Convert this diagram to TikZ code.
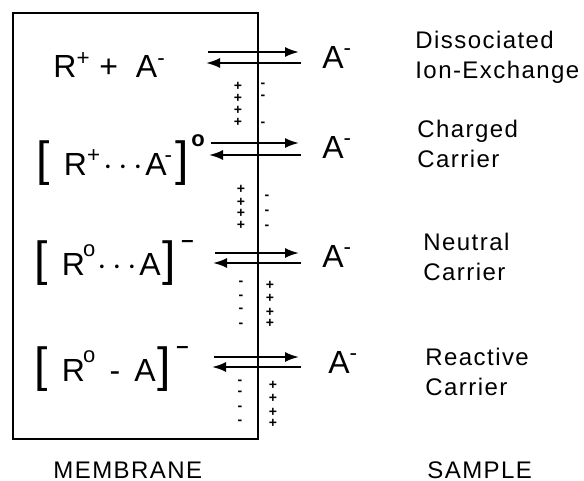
\documentclass[tikz,border=0pt]{standalone}
\usepackage{fontspec}
\setmainfont{Liberation Sans}
\usetikzlibrary{arrows.meta}
\newcommand{\chg}[1]{\textsuperscript{#1}}
\newcommand{\brk}[1]{{\fontsize{24}{24}\selectfont #1}}
\newcommand{\bigchg}[1]{\raisebox{1.7ex}{\fontsize{11}{11}\selectfont\bfseries #1}}
\newcommand{\ring}{\kern-1pt\raisebox{1.15ex}{\fontsize{11}{11}\selectfont o}}
\newcommand{\dotsep}{\kern1pt$\cdot\kern-1pt\cdot\kern-1pt\cdot$\kern1pt}

\begin{document}
\begin{tikzpicture}[x=0.5pt, y=-0.5pt,
  formula/.style = {anchor=west, inner sep=0pt, font=\fontsize{16}{18}\selectfont},
  kind/.style    = {anchor=north west, align=left, inner sep=0pt,
                    font=\fontsize{12}{15}\selectfont\addfontfeature{LetterSpace=6}},
  flux/.style    = {line width=1pt, -{Latex[length=7pt,width=5pt]}},
  charge/.style  = {inner sep=0pt, font=\fontsize{7}{7}\selectfont\bfseries}]
  \useasboundingbox (0,0) rectangle (584,481);
  % membrane
  \draw[line width=0.8pt] (13,13) rectangle (258,439);
  \node[kind, anchor=west] (mem) at (53,470) {MEMBRANE};
  \node[kind, anchor=west] (smp) at (427,470) {SAMPLE};
  % membrane side
  \node[formula] (f1) at (53,65) {R\chg{+} + \ A\chg{-}};
  \node[formula] (f2) at (36,160) {\brk{[}\, R\chg{+}\dotsep A\kern-1pt\chg{-}\kern1pt\brk{]}\kern1.5pt\bigchg{o}};
  \node[formula] (f3) at (34,263) {\brk{[}\, R\ring\dotsep A\kern1pt\brk{]}\,\bigchg{--}};
  \node[formula] (f4) at (34,369) {\brk{[}\, R\ring\, - \,A\kern1pt\brk{]}\,\bigchg{--}};
  % sample side
  \node[formula] (a1) at (322,57) {A\chg{-}};
  \node[formula] (a2) at (322,147) {A\chg{-}};
  \node[formula] (a3) at (322,256) {A\chg{-}};
  \node[formula] (a4) at (328,362) {A\chg{-}};
  % kinds of membrane
  \node[kind] (k1) at (415,31) {Dissociated\\Ion-Exchange};
  \node[kind] (k2) at (417,120) {Charged\\Carrier};
  \node[kind] (k3) at (423,233) {Neutral\\Carrier};
  \node[kind] (k4) at (425,348) {Reactive\\Carrier};
  % exchange arrows
  \foreach \r/\yt/\yb/\xl in {1/52/63/208, 2/143/155/211, 3/253/263/215, 4/357/367/214} {
    \coordinate (mt\r) at (\xl,\yt);
    \coordinate (st\r) at (299,\yt);
    \coordinate (mb\r) at (\xl-2,\yb);
    \coordinate (sb\r) at (301,\yb);
    \draw[flux] (mt\r) -- (st\r);
    \draw[flux] (sb\r) -- (mb\r);
  }
  % double layers
  \foreach \x/\ys [count=\c] in {238/{86,98,110,122}, 241/{189,202,213,225},
                                 270/{285,298,312,323}, 273/{385,398,412,423}}
    \foreach \y [count=\i] in \ys
      \node[charge] (p\c\i) at (\x,\y) {+};
  \foreach \x/\ys [count=\c] in {263/{85,97,124}, 267/{197,212,227},
                                 241/{283,297,310,325}, 240/{382,393,408,422}}
    \foreach \y [count=\i] in \ys
      \node[charge] (n\c\i) at (\x,\y) {-};
\end{tikzpicture}
\end{document}
